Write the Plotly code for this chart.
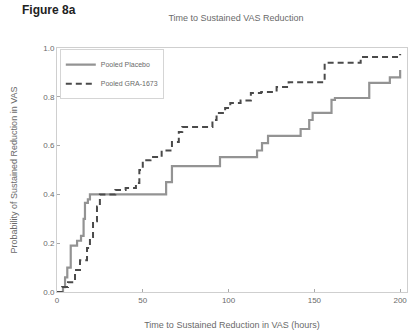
import plotly.graph_objects as go

# Kaplan-Meier style step data (hours, probability)
placebo_hours = [0, 1.7, 3.5, 4.7, 6.0, 8.0, 11.7, 14.0, 15.5, 16.3, 18.0, 19.2,
                 63.6, 67.0, 95.0, 116.6, 119.5, 123.0, 142.0, 147.0, 149.0,
                 160.0, 162.0, 182.0, 194.0, 200.0]
placebo_prob = [0.0, 0.0, 0.02, 0.06, 0.10, 0.19, 0.21, 0.23, 0.30, 0.365, 0.38, 0.40,
                0.45, 0.516, 0.553, 0.58, 0.61, 0.64, 0.668, 0.705, 0.734,
                0.787, 0.795, 0.857, 0.88, 0.91]

drug_hours = [0, 3.0, 6.4, 10.5, 13.4, 17.5, 19.2, 21.0, 23.3, 25.0, 34.0, 40.0,
              46.0, 48.0, 50.0, 54.5, 61.0, 67.0, 71.0, 73.0, 90.6, 93.0, 98.0,
              101.0, 107.0, 113.0, 119.0, 128.0, 135.0, 156.0, 177.0, 200.0, 200.0]
drug_prob = [0.0, 0.02, 0.04, 0.09, 0.13, 0.18, 0.225, 0.29, 0.35, 0.40, 0.418, 0.426,
             0.447, 0.50, 0.54, 0.553, 0.58, 0.615, 0.656, 0.676, 0.705, 0.734, 0.754,
             0.775, 0.785, 0.816, 0.82, 0.84, 0.86, 0.94, 0.963, 0.963, 0.975]

series_names = ["Pooled Placebo", "Pooled GRA-1673"]
x_ticks = [0, 50, 100, 150, 200]
y_ticks = [0.0, 0.2, 0.4, 0.6, 0.8, 1.0]

font_family = "Liberation Sans, Arial, sans-serif"
text_color = "#6a6a6a"

fig = go.Figure()
fig.add_trace(go.Scatter(
    x=placebo_hours, y=placebo_prob, name=series_names[0], mode="lines",
    line=dict(shape="hv", color="#939393", width=2.2),
))
fig.add_trace(go.Scatter(
    x=drug_hours, y=drug_prob, name=series_names[1], mode="lines",
    line=dict(shape="hv", color="#4a4a4a", width=2, dash="6px,4px"),
))

fig.update_layout(
    width=414, height=336,
    margin=dict(l=57, r=7, t=48, b=44),
    paper_bgcolor="white", plot_bgcolor="white",
    font=dict(family=font_family, color=text_color, size=8),
    title=dict(text="Time to Sustained VAS Reduction", x=0.57, xanchor="center",
               y=1 - 18 / 336, yanchor="middle",
               font=dict(size=9, color=text_color)),
    showlegend=True,
    legend=dict(x=0.008, y=0.995, xanchor="left", yanchor="top",
                bordercolor="#d5d5d5", borderwidth=1, bgcolor="white",
                font=dict(size=7, color=text_color), tracegroupgap=0,
                itemwidth=30),
    annotations=[dict(text="<b>Figure 8a</b>", xref="paper", yref="paper",
                      x=(20 - 57) / 350, y=(292 - 1) / 244,
                      xanchor="left", yanchor="top",
                      showarrow=False, font=dict(size=12, color="#222"))],
)
fig.update_xaxes(
    range=[0, 204], tickvals=x_ticks, ticktext=[str(v) for v in x_ticks],
    ticks="inside", ticklen=3, tickcolor="#aaa",
    showline=True, linecolor="#cfcfcf", linewidth=1, mirror=True,
    showgrid=False, zeroline=False,
    title=dict(text="Time to Sustained Reduction in VAS (hours)",
               font=dict(size=9, color=text_color), standoff=18),
)
fig.update_yaxes(
    range=[0, 1.0], tickvals=y_ticks, ticktext=[f"{v:.1f}" for v in y_ticks],
    ticks="inside", ticklen=3, tickcolor="#aaa",
    showline=True, linecolor="#cfcfcf", linewidth=1, mirror=True,
    showgrid=False, zeroline=False,
    title=dict(text="Probability of Sustained Reduction in VAS",
               font=dict(size=9, color=text_color), standoff=24),
)

fig.write_html("out.html", config={"displayModeBar": False},
               post_script="document.body.style.margin='0';document.body.style.overflow='hidden';")
